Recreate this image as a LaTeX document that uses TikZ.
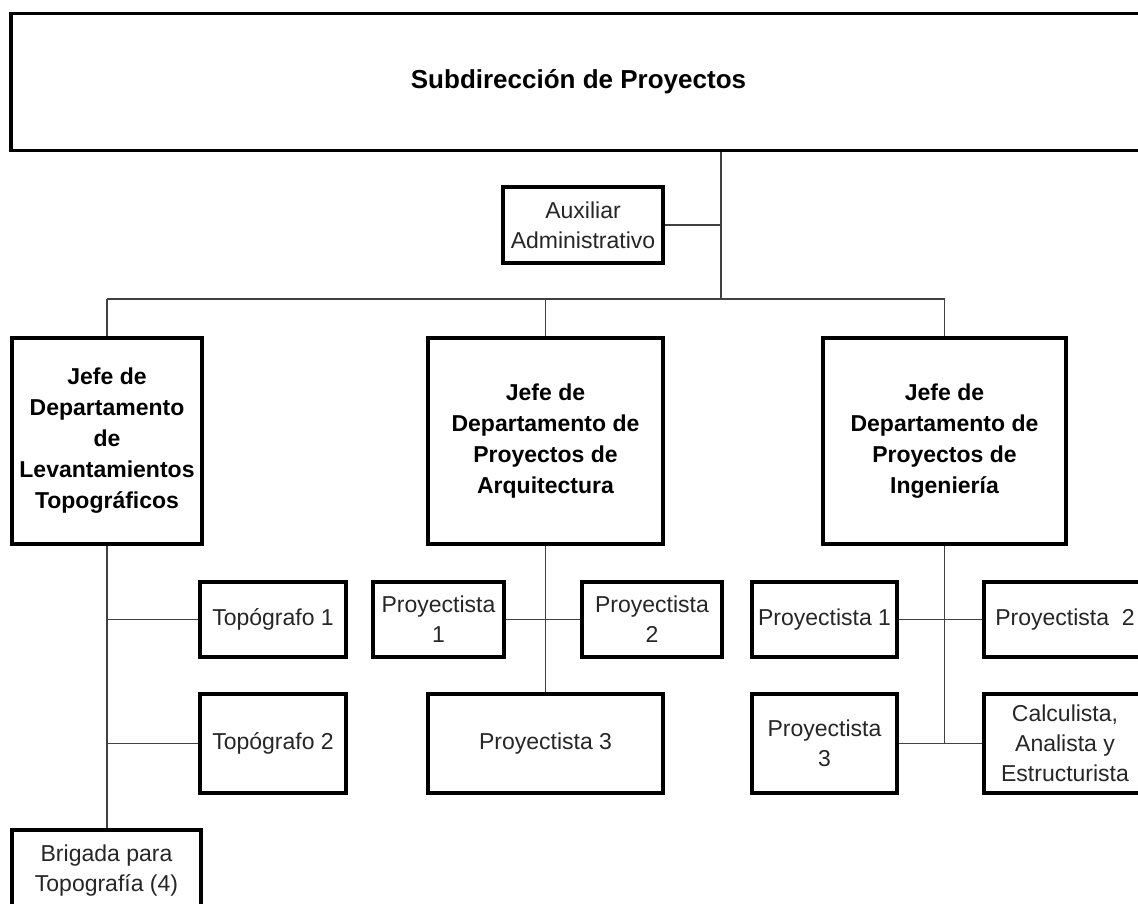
\documentclass[tikz,border=0pt]{standalone}
\usepackage{fontspec}
\setmainfont{Liberation Sans}
\usetikzlibrary{calc}

\begin{document}
\begin{tikzpicture}[x=0.5pt, y=-0.5pt,
	every node/.style={font=\fontsize{11.5}{15}\selectfont, text=black!85},
	box/.style={draw=black, line width=1.6pt, align=center, inner sep=0pt, minimum width={#1*0.5pt}},
	box/.default=140,
	jefe/.style={box=#1, minimum height=103pt, font=\fontsize{11.5}{15.5}\selectfont\bfseries, text=black},
	small/.style={box=#1, minimum height=37.5pt},
	tall/.style={box=#1, minimum height=49.5pt},
	link/.style={draw=black!75, line width=0.9pt}]
	\clip (0,0) rectangle (1138,903);
	\fill[white] (0,0) rectangle (1138,903);

	% direccion
	\node[box=1135, minimum height=68.5pt, font=\fontsize{13}{15}\selectfont\bfseries, text=black] (sub) at (578.5,82) {Subdirecci\'on de Proyectos};
	\node[box=160, minimum height=38pt] (aux) at (583,225) {Auxiliar\\Administrativo};
	\coordinate (bus) at (721,299);

	% jefaturas
	\node[jefe=190] (jefeL) at (107,441) {Jefe de\\Departamento\\de\\Levantamientos\\Topogr\'aficos};
	\node[jefe=235] (jefeA) at (545.5,441) {Jefe de\\Departamento de\\Proyectos de\\Arquitectura};
	\node[jefe=243] (jefeI) at (944.5,441) {Jefe de\\Departamento de\\Proyectos de\\Ingenier\'ia};

	% levantamientos
	\node[small=146] (topo1) at (273,619.5) {Top\'ografo 1};
	\node[tall=146] (topo2) at (273,743.5) {Top\'ografo 2};
	\node[box=189, minimum height=41pt] (brig) at (106.5,871) {Brigada para\\Topograf\'ia (4)};

	% arquitectura
	\node[small=131] (pa1) at (438.5,619.5) {Proyectista\\1};
	\node[small=140] (pa2) at (652,619.5) {Proyectista\\2};
	\node[tall=235] (pa3) at (545.5,743.5) {Proyectista 3};

	% ingenieria
	\node[small=145] (pi1) at (824.5,619.5) {Proyectista 1};
	\node[small=162] (pi2) at (1065,619.5) {Proyectista\ \ 2};
	\node[tall=145] (pi3) at (824.5,743.5) {Proyectista\\3};
	\node[tall=162] (calc) at (1065,743.5) {Calculista,\\Analista y\\Estructurista};

	% conectores
	\draw[link] (sub.south -| bus) -- (bus);
	\draw[link] (aux.east) -- (aux.east -| bus);
	\draw[link] (jefeL.north |- bus) -- (jefeI.north |- bus);
	\foreach \j in {jefeL,jefeA,jefeI}
		\draw[link] (\j.north) -- (\j.north |- bus);

	\draw[link] (jefeL.south) -- (jefeL.south |- brig.north);
	\draw[link] (topo1.west) -- (topo1.west -| jefeL.south);
	\draw[link] (topo2.west) -- (topo2.west -| jefeL.south);

	\draw[link] (jefeA.south) -- (jefeA.south |- pa3.north);
	\draw[link] (pa1.east) -- (pa2.west);

	\draw[link] (jefeI.south) -- (jefeI.south |- pi3.east);
	\draw[link] (pi1.east) -- (pi2.west);
	\draw[link] (pi3.east) -- (calc.west);
\end{tikzpicture}
\end{document}
